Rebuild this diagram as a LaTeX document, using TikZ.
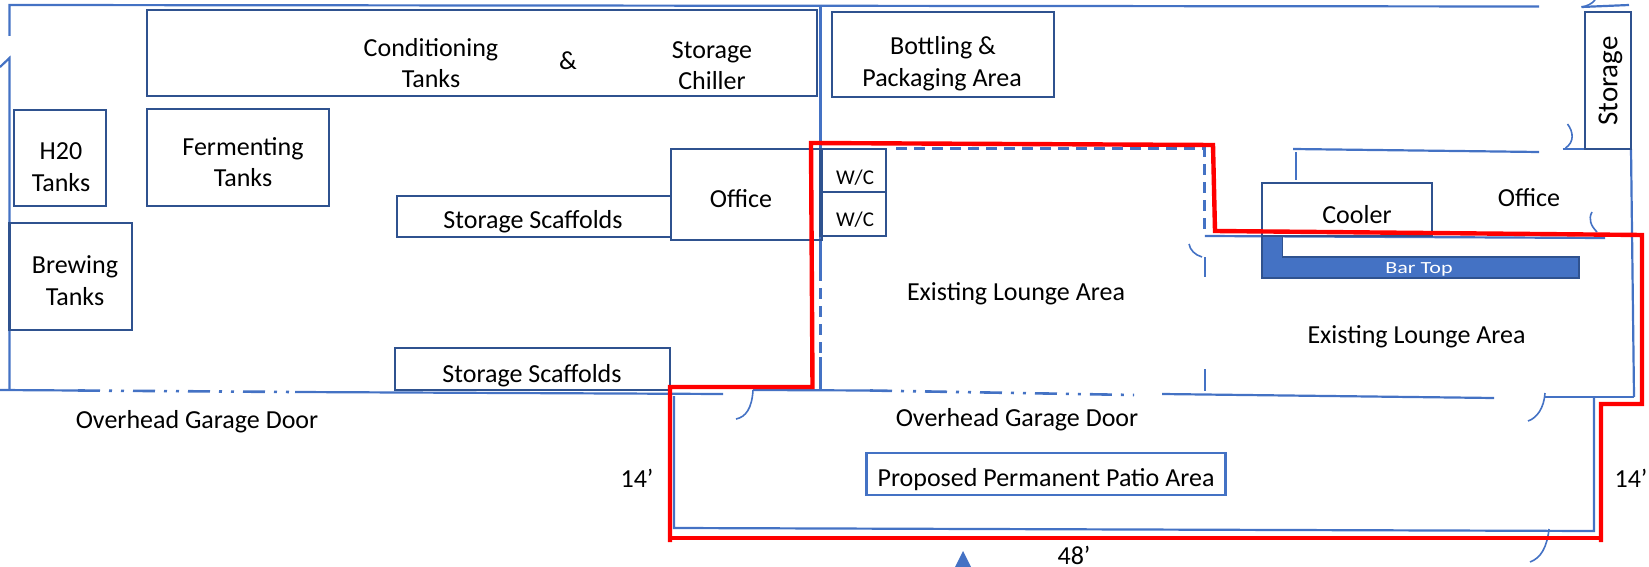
\documentclass[tikz,border=0pt]{standalone}
\usepackage{fontspec}
\setmainfont{Carlito}
\definecolor{wall}{HTML}{4472C4}
\definecolor{boxline}{HTML}{2F528F}
\definecolor{redline}{HTML}{FF0000}
\tikzset{
  wallline/.style={draw=wall,line width=2.2pt},
  dashwall/.style={draw=wall,line width=3pt,dash pattern=on 11pt off 7pt},
  doordash/.style={draw=wall,line width=2.6pt,dash pattern=on 22pt off 9pt on 3pt off 9pt on 3pt off 9pt},
  arcline/.style={draw=wall,line width=1.6pt},
  bx/.style={draw=boxline,line width=2.6pt,inner sep=0pt},
  patiobox/.style={draw=wall,line width=2.6pt,inner sep=0pt},
  lbl/.style={inner sep=0pt,font=\fontsize{26}{30}\selectfont,text=black,align=center},
  lblg/.style={lbl,yshift=-2pt},
  redpath/.style={draw=redline,line width=4.4pt,line join=miter},
}
\begin{document}
\begin{tikzpicture}[x=1pt,y=-1pt]
\useasboundingbox (0,0) rectangle (1649,567);
% walls
\draw[wallline] (9.5,36) -- (9.5,5) -- (1539,6.5);
\draw[wallline] (0,67) -- (9.5,58) -- (9.5,390);
\draw[wallline] (820.5,5) -- (820.5,270);
\draw[dashwall] (820.5,270) -- (820.5,357);
\draw[wallline] (820.5,357) -- (820.5,390);
\draw[wallline] (0,390) -- (78,390.5);
\draw[doordash] (78,390.5) -- (295,392);
\draw[wallline] (295,392) -- (723,394);
\draw[wallline] (753,390) -- (870,390.5);
\draw[doordash] (870,390.5) -- (1134,395);
\draw[wallline] (1162,394) -- (1494,398);
\draw[wallline] (1204.8,369) -- (1204.8,391);
\draw[wallline] (1204.8,257) -- (1204.8,277);
\draw[wallline] (1545,397) -- (1634,397);
\draw[wallline] (1631,149) -- (1634,397);
\draw[wallline] (674,396) -- (674,528) -- (1594,531) -- (1594,397);
\draw[wallline] (1581.5,7) -- (1629,5);
\draw[wallline] (1562.7,149) -- (1585.6,149);
\draw[wallline] (1293,149) -- (1539,152);
\draw[wallline] (1296,152) -- (1296,180);
\draw[dashwall] (896,149) -- (1204.8,149) -- (1204.8,236);
\draw[wallline] (1204.8,236) -- (1605,238);
% door arcs
\draw[arcline] (753,390) .. controls (752,408) and (746,417) .. (736,419);
\draw[arcline] (1545,393) .. controls (1544,408) and (1537,418) .. (1528,421);
\draw[arcline] (1549,529) .. controls (1547,547) and (1541,558) .. (1530,562);
\draw[arcline] (1567.5,124) .. controls (1573.5,132) and (1574.5,142) .. (1565.5,148);
\draw[arcline] (1592,212) .. controls (1588,219) and (1591,226) .. (1597,232);
\draw[arcline] (1189,244) .. controls (1190,250) and (1195,255) .. (1202,257);
\draw[arcline] (1581.5,7) .. controls (1587.5,6) and (1591.5,4) .. (1595,0);
% boxes
\node[bx,minimum width=670pt,minimum height=86pt] (cond) at (482,53) {};
\node[bx,minimum width=92pt,minimum height=96pt] (h2o) at (60,158) {};
\node[bx,minimum width=182pt,minimum height=97pt] (ferm) at (238,157.5) {};
\node[bx,minimum width=274pt,minimum height=41pt] (scaf1) at (534,216.5) {};
\node[bx,minimum width=151pt,minimum height=91pt] (off1) at (746.5,194.5) {};
\node[bx,minimum width=122.5pt,minimum height=107pt] (brew) at (70.75,276.5) {};
\node[bx,minimum width=275pt,minimum height=42pt] (scaf2) at (532.5,369) {};
\node[bx,minimum width=222pt,minimum height=85pt] (bott) at (943,54.5) {};
\node[bx,minimum width=45.7pt,minimum height=137pt] (stor) at (1608,80.5) {};
\node[bx,minimum width=66pt,minimum height=43pt] (wc1) at (853,170.5) {};
\node[bx,minimum width=66pt,minimum height=44pt] (wc2) at (853,214) {};
\node[bx,minimum width=170pt,minimum height=53pt] (cool) at (1347,209.5) {};
\node[patiobox,minimum width=359.5pt,minimum height=42pt] (patio) at (1046,474) {};
% bar top
\draw[draw=boxline,fill=wall,line width=1.5pt] (1262,236) -- (1282.7,236) -- (1282.7,257) -- (1579,257) -- (1579,278) -- (1262,278) -- cycle;
\node[inner sep=0pt,font=\fontsize{17}{20}\selectfont,text=white,xscale=1.3] (bar) at (1419,269) {Bar Top};
% red outline
\draw[redpath] (670,542) -- (670,387) -- (812.5,387) -- (811,143) -- (1213,145) -- (1215,231) -- (1642,235) -- (1642,404) -- (1601,404) -- (1601,542);
\draw[redpath] (670,538) -- (1601,538);
% arrow marker
\fill[wall] (955,567) -- (963,551) -- (971,567) -- cycle;
% labels
\node[lblg] (t1) at (431,48) {Conditioning};
\node[lbl] (t2) at (431,79) {Tanks};
\node[lbl] (t3) at (568,61) {\&};
\node[lblg] (t4) at (712,50) {Storage};
\node[lbl] (t5) at (712,81) {Chiller};
\node[lbl] (t6) at (61,151) {H20};
\node[lbl] (t7) at (61,183) {Tanks};
\node[lblg] (t8) at (243,147) {Fermenting};
\node[lbl] (t9) at (243,178) {Tanks};
\node[lblg] (t10) at (533,220) {Storage Scaffolds};
\node[lbl] (t11) at (741,199) {Office};
\node[lblg] (t12) at (75,265) {Brewing};
\node[lbl] (t13) at (75,297) {Tanks};
\node[lblg] (t14) at (532,374) {Storage Scaffolds};
\node[lblg] (t15) at (197,420) {Overhead Garage Door};
\node[lbl] (t16) at (637,478) {14’};
\node[lblg] (t17) at (943,46) {Bottling \&};
\node[lblg] (t18) at (942,78) {Packaging Area};
\node[lbl,rotate=90,font=\fontsize{29}{32}\selectfont] (t19) at (1610.5,81) {Storage};
\node[lbl,font=\fontsize{21}{24}\selectfont] (t20) at (855,178) {W/C};
\node[lbl,font=\fontsize{21}{24}\selectfont] (t21) at (855,220) {W/C};
\node[lbl] (t22) at (1357,215) {Cooler};
\node[lbl] (t23) at (1529,198) {Office};
\node[lblg] (t24) at (1016,292) {Existing Lounge Area};
\node[lblg] (t25) at (1416.5,335) {Existing Lounge Area};
\node[lblg] (t26) at (1017,418) {Overhead Garage Door};
\node[lblg] (t27) at (1046,478) {Proposed Permanent Patio Area};
\node[lbl] (t28) at (1631,478) {14’};
\node[lbl] (t29) at (1074,555) {48’};
\end{tikzpicture}
\end{document}
